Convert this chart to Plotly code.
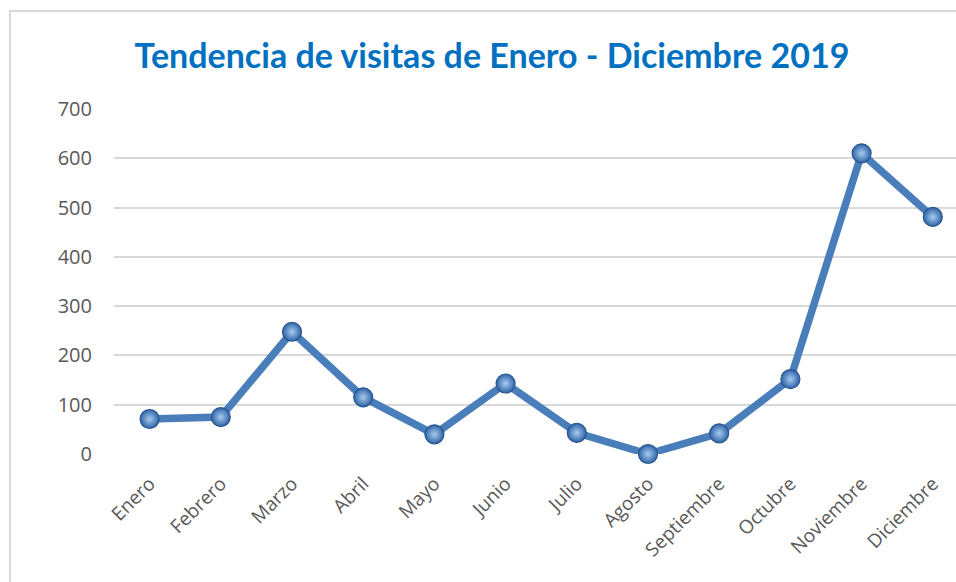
import plotly.graph_objects as go

meses = ["Enero", "Febrero", "Marzo", "Abril", "Mayo", "Junio", "Julio",
         "Agosto", "Septiembre", "Octubre", "Noviembre", "Diciembre"]
visitas = [71, 75, 248, 115, 40, 143, 43, 0, 42, 152, 610, 481]
y_ticks = [0, 100, 200, 300, 400, 500, 600, 700]

W, H = 956, 582
L, R, T, B = 114, 0, 109, 128
pw, ph = W - L - R, H - T - B

fig = go.Figure()
fig.add_trace(go.Scatter(
    x=meses, y=visitas, mode="lines+markers",
    line=dict(color="#4A7EBB", width=7.5),
    marker=dict(size=19, color="#2E64A8",
                gradient=dict(type="radial", color="#A9CBEF"),
                line=dict(color="#2B568F", width=1.2)),
    cliponaxis=False, hoverinfo="x+y", showlegend=False,
))

fig.update_layout(
    width=W, height=H,
    margin=dict(l=L, r=R, t=T, b=B, autoexpand=False),
    paper_bgcolor="white", plot_bgcolor="white",
    title=dict(text="<b>Tendencia de visitas de Enero - Diciembre 2019</b>",
               x=492 / W, xanchor="center", xref="container",
               y=1 - 56 / H, yanchor="middle", yref="container",
               font=dict(family="Lato", size=34, color="#0070C0")),
    font=dict(family="Open Sans", color="#595959"),
    xaxis=dict(range=[-0.5, -0.5 + pw / 71.2], tickangle=-45,
               showgrid=False, showline=False, zeroline=False, ticks="",
               ticklabelstandoff=14,
               tickfont=dict(size=19, color="#595959"), fixedrange=True),
    yaxis=dict(range=[0, 700], tickvals=y_ticks, showgrid=True,
               gridcolor="#D9D9D9", gridwidth=1.5, zeroline=False,
               showline=False, ticks="", ticklabelstandoff=21,
               tickfont=dict(size=20, color="#595959"), fixedrange=True),
    shapes=[dict(type="rect", xref="paper", yref="paper",
                 x0=(10 - L) / pw, x1=(W + 20 - L) / pw,
                 y0=-(B + 20) / ph, y1=(H - B - 11) / ph,
                 line=dict(color="#D9D9D9", width=2), layer="below")],
)

fig.write_html("out.html", config={"displayModeBar": False},
               post_script="document.body.style.margin='0';document.body.style.overflow='hidden';")
